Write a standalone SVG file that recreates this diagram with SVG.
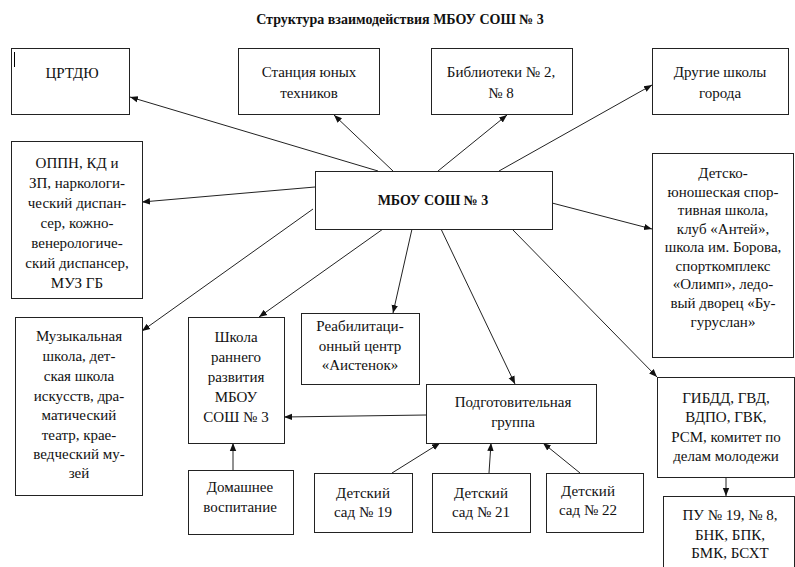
<svg xmlns="http://www.w3.org/2000/svg" width="795" height="567" viewBox="0 0 795 567" font-family="Liberation Serif, Times New Roman, DejaVu Serif, Noto Serif, serif">
<style>
.b{fill:#fff;stroke:#222;stroke-width:1}
.t{font-size:15px;fill:#111;text-anchor:middle}
.h{font-size:14px;font-weight:bold;fill:#111;text-anchor:middle}
.c{stroke:#222;stroke-width:1;fill:none;marker-end:url(#a)}
</style>
<defs>
<marker id="a" viewBox="0 0 10 10" refX="10" refY="5" markerWidth="8" markerHeight="8" markerUnits="userSpaceOnUse" orient="auto">
<path d="M0,1 L10,5 L0,9 z" fill="#111"/>
</marker>
</defs>
<rect width="795" height="567" fill="#fff"/>
<text class="h" x="400" y="24">Структура взаимодействия МБОУ СОШ № 3</text>

<g id="connectors">
<line class="c" x1="378" y1="171" x2="130" y2="97"/>
<line class="c" x1="393" y1="171" x2="334" y2="115"/>
<line class="c" x1="438" y1="171" x2="507" y2="115"/>
<line class="c" x1="499" y1="171" x2="652" y2="85"/>
<line class="c" x1="315" y1="187" x2="142" y2="202"/>
<line class="c" x1="552" y1="203" x2="652" y2="229"/>
<line class="c" x1="313" y1="209" x2="142" y2="331"/>
<line class="c" x1="383" y1="229" x2="259" y2="317"/>
<line class="c" x1="412" y1="229" x2="393" y2="313"/>
<line class="c" x1="441" y1="229" x2="515" y2="384"/>
<line class="c" x1="512" y1="229" x2="657" y2="377"/>
<line class="c" x1="426" y1="415" x2="284" y2="417"/>
<line class="c" x1="233" y1="470" x2="233" y2="443"/>
<line class="c" x1="392" y1="473" x2="440" y2="443"/>
<line class="c" x1="489" y1="473" x2="491" y2="443"/>
<line class="c" x1="580" y1="473" x2="543" y2="443"/>
<line class="c" x1="726" y1="477" x2="726" y2="496"/>
</g>

<g id="crtdu">
<rect class="b" x="11.5" y="48.5" width="118" height="66"/>
<line x1="14.5" y1="52" x2="14.5" y2="67" stroke="#000" stroke-width="1"/>
<text class="t" x="72" y="78">ЦРТДЮ</text>
</g>
<g id="station">
<rect class="b" x="238.5" y="48.5" width="141" height="66"/>
<text class="t" x="309" y="77">Станция юных</text>
<text class="t" x="309" y="98">техников</text>
</g>
<g id="library">
<rect class="b" x="431.5" y="48.5" width="141" height="66"/>
<text class="t" x="501" y="77">Библиотеки № 2,</text>
<text class="t" x="501" y="98">№ 8</text>
</g>
<g id="schools">
<rect class="b" x="652.5" y="48.5" width="136" height="66"/>
<text class="t" x="720" y="77">Другие школы</text>
<text class="t" x="720" y="98">города</text>
</g>
<g id="oppn">
<rect class="b" x="11.5" y="141.5" width="131" height="157"/>
<text class="t" x="77" y="168">ОППН, КД и</text>
<text class="t" x="77" y="188">ЗП, наркологи-</text>
<text class="t" x="77" y="208">ческий диспан-</text>
<text class="t" x="77" y="228">сер, кожно-</text>
<text class="t" x="77" y="248">венерологиче-</text>
<text class="t" x="77" y="268">ский диспансер,</text>
<text class="t" x="77" y="288">МУЗ ГБ</text>
</g>
<g id="main">
<rect class="b" x="315.5" y="171.5" width="237" height="58"/>
<text class="h" x="433" y="205">МБОУ СОШ № 3</text>
</g>
<g id="sport">
<rect class="b" x="652.5" y="153.5" width="141" height="204"/>
<text class="t" x="723" y="178">Детско-</text>
<text class="t" x="723" y="197">юношеская спор-</text>
<text class="t" x="723" y="215">тивная школа,</text>
<text class="t" x="723" y="234">клуб «Антей»,</text>
<text class="t" x="723" y="252">школа им. Борова,</text>
<text class="t" x="723" y="271">спорткомплекс</text>
<text class="t" x="723" y="289">«Олимп», ледо-</text>
<text class="t" x="723" y="308">вый дворец «Бу-</text>
<text class="t" x="723" y="327">гуруслан»</text>
</g>
<g id="music">
<rect class="b" x="15.5" y="317.5" width="127" height="178"/>
<text class="t" x="79" y="341">Музыкальная</text>
<text class="t" x="79" y="361">школа, дет-</text>
<text class="t" x="79" y="381">ская школа</text>
<text class="t" x="79" y="401">искусств, дра-</text>
<text class="t" x="79" y="420">матический</text>
<text class="t" x="79" y="440">театр, крае-</text>
<text class="t" x="79" y="459">ведческий му-</text>
<text class="t" x="79" y="478">зей</text>
</g>
<g id="early">
<rect class="b" x="188.5" y="317.5" width="96" height="126"/>
<text class="t" x="236" y="342">Школа</text>
<text class="t" x="236" y="362">раннего</text>
<text class="t" x="236" y="382">развития</text>
<text class="t" x="236" y="402">МБОУ</text>
<text class="t" x="236" y="422">СОШ № 3</text>
</g>
<g id="rehab">
<rect class="b" x="301.5" y="313.5" width="118" height="71"/>
<text class="t" x="360" y="331">Реабилитаци-</text>
<text class="t" x="360" y="351">онный центр</text>
<text class="t" x="360" y="370">«Аистенок»</text>
</g>
<g id="prep">
<rect class="b" x="426.5" y="384.5" width="170" height="59"/>
<text class="t" x="513" y="407">Подготовительная</text>
<text class="t" x="513" y="427">группа</text>
</g>
<g id="gibdd">
<rect class="b" x="657.5" y="377.5" width="137" height="100"/>
<text class="t" x="726" y="403">ГИБДД, ГВД,</text>
<text class="t" x="726" y="422">ВДПО, ГВК,</text>
<text class="t" x="726" y="442">РСМ, комитет по</text>
<text class="t" x="726" y="461">делам молодежи</text>
</g>
<g id="pu">
<rect class="b" x="663.5" y="496.5" width="131" height="90"/>
<text class="t" x="730" y="520">ПУ № 19, № 8,</text>
<text class="t" x="730" y="540">БНК, БПК,</text>
<text class="t" x="730" y="558">БМК, БСХТ</text>
</g>
<g id="home">
<rect class="b" x="188.5" y="470.5" width="105" height="64"/>
<text class="t" x="240" y="492">Домашнее</text>
<text class="t" x="240" y="512">воспитание</text>
</g>
<g id="kg19">
<rect class="b" x="314.5" y="473.5" width="98" height="59"/>
<text class="t" x="363" y="498">Детский</text>
<text class="t" x="363" y="517">сад № 19</text>
</g>
<g id="kg21">
<rect class="b" x="432.5" y="473.5" width="98" height="59"/>
<text class="t" x="481" y="498">Детский</text>
<text class="t" x="481" y="517">сад № 21</text>
</g>
<g id="kg22">
<rect class="b" x="546.5" y="473.5" width="97" height="59"/>
<text class="t" x="588" y="496">Детский</text>
<text class="t" x="588" y="515">сад № 22</text>
</g>
</svg>
